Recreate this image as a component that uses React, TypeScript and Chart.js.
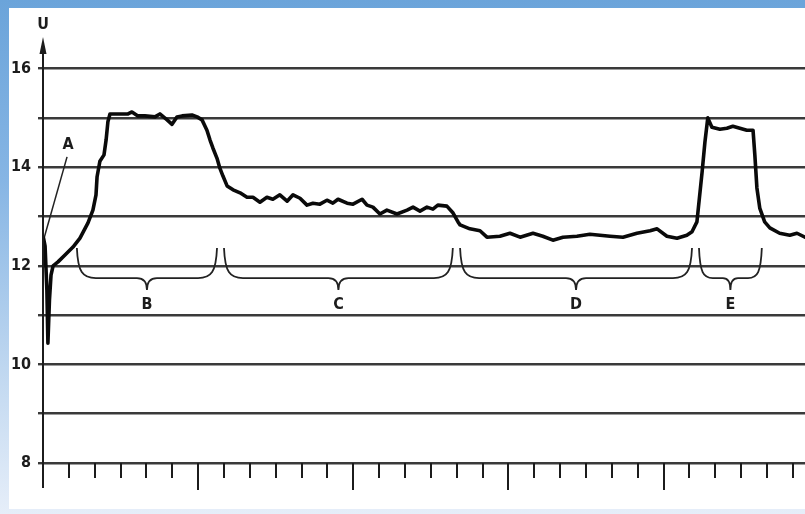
import { useEffect, useRef } from 'react';
import { Chart, registerables } from 'chart.js';

Chart.register(...registerables);

// Time axis (tick units) and voltage (V)
const timeValues = [
  0.02, 0.08, 0.15, 0.19, 0.25, 0.31, 0.39, 0.58, 0.85, 1.16, 1.43, 1.74, 1.93, 2.05, 2.09, 2.2, 2.36, 2.44, 2.51, 2.59,
  2.98, 3.29, 3.44, 3.67, 3.94, 4.33, 4.52, 4.8, 4.99, 5.18, 5.38, 5.76, 5.96, 6.15, 6.34, 6.46, 6.57, 6.73, 6.84, 6.96,
  7.12, 7.35, 7.62, 7.89, 8.12, 8.39, 8.66, 8.89, 9.16, 9.44, 9.67, 9.94, 10.21, 10.44, 10.71, 10.98, 11.21, 11.41, 11.76, 11.99,
  12.34, 12.53, 12.76, 13.03, 13.3, 13.69, 14.08, 14.31, 14.58, 14.85, 15.08, 15.27, 15.62, 15.86, 16.05, 16.13, 16.51, 16.9, 17.17, 17.67,
  18.06, 18.45, 18.95, 19.33, 19.72, 20.11, 20.65, 21.15, 21.54, 21.93, 22.43, 22.97, 23.48, 23.75, 24.13, 24.52, 24.9, 25.1, 25.29, 25.49,
  25.6, 25.71, 25.87, 26.18, 26.45, 26.68, 26.95, 27.22, 27.46, 27.53, 27.61, 27.72, 27.91, 28.11, 28.49, 28.88, 29.16, 29.47,
];
const voltageValues = [
  12.56, 12.4, 11.51, 10.43, 11.31, 11.81, 12.0, 12.08, 12.22, 12.38, 12.56, 12.87, 13.13, 13.44, 13.8, 14.12, 14.25, 14.55, 14.92, 15.08,
  15.08, 15.08, 15.12, 15.04, 15.04, 15.02, 15.08, 14.96, 14.87, 15.02, 15.04, 15.06, 15.02, 14.96, 14.75, 14.55, 14.39, 14.18, 13.98, 13.82,
  13.62, 13.54, 13.48, 13.39, 13.39, 13.29, 13.39, 13.35, 13.44, 13.31, 13.44, 13.37, 13.23, 13.27, 13.25, 13.33, 13.27, 13.35, 13.27, 13.25,
  13.35, 13.23, 13.19, 13.05, 13.13, 13.05, 13.13, 13.19, 13.11, 13.19, 13.15, 13.23, 13.21, 13.07, 12.89, 12.83, 12.75, 12.71, 12.58, 12.6,
  12.66, 12.58, 12.66, 12.6, 12.52, 12.58, 12.6, 12.64, 12.62, 12.6, 12.58, 12.66, 12.71, 12.75, 12.6, 12.56, 12.62, 12.69, 12.89, 13.9,
  14.51, 15.0, 14.81, 14.77, 14.79, 14.83, 14.79, 14.75, 14.75, 14.25, 13.58, 13.17, 12.89, 12.77, 12.66, 12.62, 12.66, 12.58,
];

// Y axis ticks
const yTickValues = [8, 9, 10, 11, 12, 13, 14, 15, 16];
const yTickLabels = ['8', '', '10', '', '12', '', '14', '', '16'];
const yAxisTitle = 'U';

// X axis minor ticks (count) and major tick period
const xTickCount = 29;
const xMajorEvery = 6;

// Phase braces
const braceStarts = [1.31, 7.0, 16.13, 25.37];
const braceEnds = [6.73, 15.85, 25.1, 27.8];
const braceLabels = ['B', 'C', 'D', 'E'];
const braceTopV = 12.36;
const braceMidV = 11.75;
const braceCuspV = 11.51;
const braceLabelV = 11.2;

// Pointer "A"
const pointerX = [0.93, 0.04];
const pointerV = [14.21, 12.56];
const pointerLabel = 'A';
const pointerLabelX = 0.97;
const pointerLabelV = 14.45;

const FONT = "'Liberation Sans Narrow', 'DejaVu Sans Condensed', 'Arial Narrow', sans-serif";

const decorPlugin = {
  id: 'decor',
  afterDatasetsDraw(chart: any) {
    const { ctx, scales } = chart;
    const x = scales.x;
    const y = scales.y;
    const base = y.getPixelForValue(8);
    const ax = x.getPixelForValue(0);
    ctx.save();
    ctx.strokeStyle = '#1c1c1c';
    ctx.fillStyle = '#1c1c1c';
    // y axis line
    ctx.lineWidth = 2;
    ctx.beginPath();
    ctx.moveTo(ax, 50);
    ctx.lineTo(ax, base + 25);
    ctx.stroke();
    // arrow
    ctx.beginPath();
    ctx.moveTo(ax, 37);
    ctx.lineTo(ax - 3.5, 54);
    ctx.lineTo(ax + 3.5, 54);
    ctx.closePath();
    ctx.fill();
    // x ticks
    for (let i = 1; i <= xTickCount; i++) {
      const px = Math.round(x.getPixelForValue(i));
      const len = i % xMajorEvery === 0 ? 27 : 15;
      ctx.lineWidth = 2;
      ctx.beginPath();
      ctx.moveTo(px, base);
      ctx.lineTo(px, base + len);
      ctx.stroke();
    }
    // braces
    ctx.lineWidth = 1.8;
    ctx.strokeStyle = '#222';
    const yt = y.getPixelForValue(braceTopV);
    const ym = y.getPixelForValue(braceMidV);
    const yc = y.getPixelForValue(braceCuspV);
    const yl = y.getPixelForValue(braceLabelV);
    ctx.font = `bold 16px ${FONT}`;
    ctx.textAlign = 'center';
    ctx.textBaseline = 'middle';
    braceStarts.forEach((s, i) => {
      const x0 = x.getPixelForValue(s);
      const x1 = x.getPixelForValue(braceEnds[i]);
      const mid = (x0 + x1) / 2;
      const w = x1 - x0;
      const r = Math.min(19, w * 0.22);
      const r2 = Math.min(10, w * 0.12);
      ctx.beginPath();
      ctx.moveTo(x0, yt);
      ctx.bezierCurveTo(x0 + 1, ym - 6, x0 + r * 0.3, ym, x0 + r, ym);
      ctx.lineTo(mid - r2, ym);
      ctx.quadraticCurveTo(mid, ym, mid, yc);
      ctx.quadraticCurveTo(mid, ym, mid + r2, ym);
      ctx.lineTo(x1 - r, ym);
      ctx.bezierCurveTo(x1 - r * 0.3, ym, x1 - 1, ym - 6, x1, yt);
      ctx.stroke();
      ctx.fillText(braceLabels[i], mid, yl);
    });
    // labels
    ctx.fillText(pointerLabel, x.getPixelForValue(pointerLabelX), y.getPixelForValue(pointerLabelV));
    ctx.fillText(yAxisTitle, ax, 25);
    ctx.restore();
  },
};

export default function App() {
  const ref = useRef<HTMLCanvasElement | null>(null);
  useEffect(() => {
    if (!ref.current) return;
    const chart = new Chart(ref.current, {
      type: 'line',
      data: {
        datasets: [
          {
            data: timeValues.map((t, i) => ({ x: t, y: voltageValues[i] })),
            borderColor: '#0a0a0a',
            borderWidth: 3.6,
            pointRadius: 0,
            tension: 0,
            borderJoinStyle: 'round',
            borderCapStyle: 'round',
          },
          {
            data: pointerX.map((t, i) => ({ x: t, y: pointerV[i] })),
            borderColor: '#222',
            borderWidth: 1.5,
            pointRadius: 0,
            tension: 0,
          },
        ],
      },
      options: {
        responsive: false,
        animation: false,
        devicePixelRatio: 1,
        events: [],
        layout: { padding: { top: 39, bottom: 51, left: 0, right: 0 } },
        plugins: { legend: { display: false }, tooltip: { enabled: false } },
        scales: {
          x: { type: 'linear', min: 0, max: 29.47, display: false },
          y: {
            type: 'linear',
            min: 8,
            max: 16.6,
            afterBuildTicks: (s: any) => {
              s.ticks = yTickValues.map((v) => ({ value: v }));
            },
            afterFit: (s: any) => {
              s.width = 43;
            },
            grid: { color: '#3a3a3a', lineWidth: 2.4, tickLength: 5, drawTicks: true },
            border: { display: false },
            ticks: {
              callback: (_v: any, i: number) => yTickLabels[i],
              font: { family: FONT, size: 16, weight: 'bold' },
              color: '#1c1c1c',
              padding: 7,
            },
          },
        },
      },
      plugins: [decorPlugin],
    } as any);
    return () => chart.destroy();
  }, []);

  return (
    <div
      style={{
        position: 'fixed',
        left: 0,
        top: 0,
        width: 805,
        height: 514,
        overflow: 'hidden',
        background: 'linear-gradient(to bottom, #6ba4da 0%, #86b5e4 35%, #c4daf1 75%, #e6eef9 100%)',
      }}
    >
      <div style={{ position: 'absolute', left: 9, top: 8, width: 796, height: 501, background: '#ffffff' }} />
      <canvas ref={ref} width={805} height={514} style={{ position: 'absolute', left: 0, top: 0 }} />
    </div>
  );
}
